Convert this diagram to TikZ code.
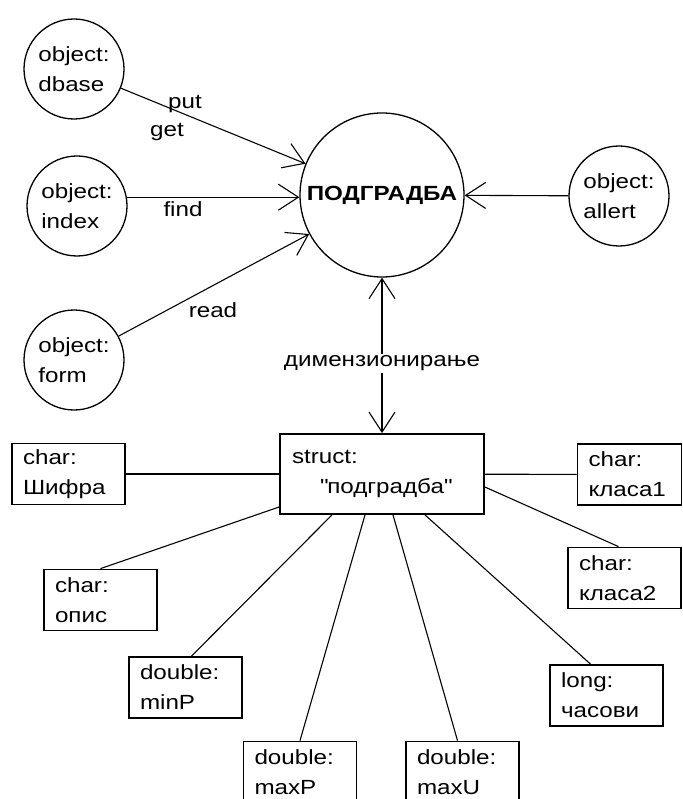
\documentclass[tikz,border=0pt]{standalone}
\usepackage{fontspec}
\setmainfont{Liberation Sans}[FakeStretch=1.18]
\usetikzlibrary{arrows.meta}

\begin{document}
\begin{tikzpicture}[x=1pt, y=-1pt, >={Straight Barb[length=20pt,width=26pt]},
    every node/.style={font=\fontsize{20.5}{30}\selectfont, inner sep=0pt},
    obj/.style={circle, draw, line width=1.3pt, minimum size=100pt, align=left},
    field/.style={rectangle, draw, line width=1.8pt, minimum height=61pt, text width=91pt, inner xsep=11pt, align=left},
    link/.style={line width=1.1pt}]

    \useasboundingbox (0,0) rectangle (682,799);

    % Central object
    \node (B)[obj, minimum size=164pt, font=\fontsize{20.5}{30}\selectfont\bfseries] at (382,195) {ПОДГРАДБА};

    % Objects round it
    \node (D)[obj] at (74,69) {object:\\dbase};
    \node (I)[obj] at (77,206) {object:\\index};
    \node (F)[obj] at (74,360) {object:\\form};
    \node (A)[obj] at (619,196) {object:\\allert};

    % Struct
    \node (S)[field, minimum height=80pt, text width=180pt, inner xsep=12pt] at (382,474) {struct:\\\hspace*{28pt}\textquotedbl подградба\textquotedbl};

    % Fields of the struct
    \node (Sh)[field] at (68.5,474) {char:\\Шифра};
    \node (Op)[field] at (100.5,600) {char:\\опис};
    \node (M1)[field] at (185.5,687.5) {double:\\minP};
    \node (M2)[field] at (300,772) {double:\\maxP};
    \node (M3)[field] at (462.5,772) {double:\\maxU};
    \node (Ch)[field] at (606.5,695.5) {long:\\часови};
    \node (K2)[field] at (624.5,578) {char:\\класа2};
    \node (K1)[field, text width=82pt] at (629.5,474.5) {char:\\класа1};

    % Labels
    \node (put)[anchor=base] at (185,109) {put};
    \node (get)[anchor=base] at (167,137) {get};
    \node (find)[anchor=base] at (183,217) {find};
    \node (read)[anchor=base] at (213,317) {read};

    % Messages to the central object
    \draw[->, link] (D) -- (B);
    \draw[->, link] (I.10) -- (I.10 -| B.west);
    \draw[->, link] (F) -- (B);
    \draw[->, link] (A) -- (B);
    \draw[<->, link] (B) -- node[pos=.55, fill=white, inner sep=2pt] {димензионирање} (S);

    % Edges of the struct
    \draw[link] (Sh) -- (S);
    \draw[link] ([yshift=-33pt]S.west) -- (Op.north);
    \draw[link] ([xshift=-50pt]S.south) -- ([xshift=6pt]M1.north);
    \draw[link] ([xshift=-17pt]S.south) -- (M2.north);
    \draw[link] ([xshift=11pt]S.south) -- ([xshift=-5pt]M3.north);
    \draw[link] ([xshift=43pt]S.south) -- ([xshift=-16pt]Ch.north);
    \draw[link] ([yshift=-13pt]S.east) -- ([xshift=-6pt]K2.north);
    \draw[link] (S) -- (K1);
\end{tikzpicture}
\end{document}
